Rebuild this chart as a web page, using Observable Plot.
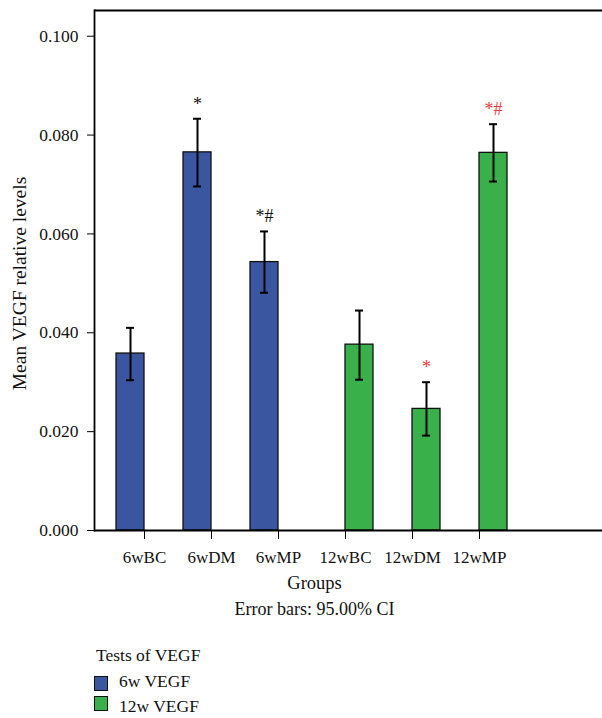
<!DOCTYPE html>
<html>
<head>
<meta charset="utf-8">
<script src="https://cdn.jsdelivr.net/npm/d3@7"></script>
<script src="https://cdn.jsdelivr.net/npm/@observablehq/plot@0.6"></script>
<style>
  html, body { margin: 0; padding: 0; background: #fff; overflow: hidden; }
  #wrap { position: relative; width: 602px; height: 718px; font-family: "Liberation Serif", "DejaVu Serif", serif; color: #111; }
  .lg { position: absolute; font-size: 17.5px; line-height: 20px; white-space: nowrap; }
  .sw { position: absolute; width: 12px; height: 13px; border: 1px solid #111; }
  #chart svg { max-width: none !important; width: 602px !important; height: 630px !important; }
</style>
</head>
<body>
<div id="wrap">
  <div id="chart"></div>
  <div class="lg" style="left:96px; top:645px;">Tests of VEGF</div>
  <div class="sw" style="left:94px; top:676px; background:#3a56a1;"></div>
  <div class="lg" style="left:119px; top:671px;">6w VEGF</div>
  <div class="sw" style="left:94px; top:696px; background:#3ab04a;"></div>
  <div class="lg" style="left:119px; top:696px;">12w VEGF</div>
</div>
<script>
const groups  = ["6wBC", "6wDM", "6wMP", "12wBC", "12wDM", "12wMP"];
const series  = ["6w VEGF", "6w VEGF", "6w VEGF", "12w VEGF", "12w VEGF", "12w VEGF"];
const means   = [0.0358, 0.0765, 0.0543, 0.0376, 0.0246, 0.0764];
const ciLow   = [0.0304, 0.0696, 0.0481, 0.0305, 0.0192, 0.0706];
const ciHigh  = [0.0410, 0.0833, 0.0605, 0.0445, 0.0300, 0.0822];
const signif  = ["", "*", "*#", "", "*", "*#"];
const yTicks  = [0, 0.02, 0.04, 0.06, 0.08, 0.10];
const yMax = 0.1052;

const data = groups.map((g, i) => ({group: g, series: series[i], mean: means[i], lo: ciLow[i], hi: ciHigh[i], sig: signif[i]}));

const FONT = "Liberation Serif";

function seriesMarks(name, side, fill, sigColor) {
  const d = data.filter(r => r.series === name);
  const off = side < 0 ? {insetRight: 28} : {insetLeft: 28};
  return [
    Plot.barY(d, {x: "group", y: "mean", fill, stroke: "#111", strokeWidth: 1.3, ...off}),
    Plot.ruleX(d, {x: "group", y1: "lo", y2: "hi", dx: 14 * side, stroke: "#000", strokeWidth: 2}),
    Plot.tickY(d, {x: "group", y: "hi", dx: 14 * side, insetLeft: 24, insetRight: 24, stroke: "#000", strokeWidth: 2}),
    Plot.tickY(d, {x: "group", y: "lo", dx: 14 * side, insetLeft: 24, insetRight: 24, stroke: "#000", strokeWidth: 2}),
    Plot.text(d.filter(r => r.sig), {x: "group", y: "hi", text: "sig", dx: 14 * side, dy: -15, fill: sigColor, fontSize: 18, fontFamily: FONT})
  ];
}

const chart = Plot.plot({
  width: 602,
  height: 630,
  marginLeft: 94,
  marginRight: 0,
  marginTop: 10,
  marginBottom: 100,
  style: {fontFamily: FONT, fontSize: "17px", color: "#111", background: "white", overflow: "visible"},
  x: {domain: groups, paddingInner: 0.165, paddingOuter: 0.87, align: 0.186, label: null},
  y: {domain: [0, yMax], label: null},
  marks: [
    ...seriesMarks("6w VEGF", -1, "#3a56a1", "#111"),
    ...seriesMarks("12w VEGF", 1, "#3ab04a", "#ee3a3f"),
    Plot.ruleY([yMax], {stroke: "#000", strokeWidth: 1.8}),
    Plot.ruleY([0], {stroke: "#000", strokeWidth: 1.8}),
    Plot.frame({anchor: "left", stroke: "#000", strokeWidth: 1.8}),
    Plot.axisY({ticks: yTicks, tickFormat: d3.format(".3f"), tickSize: 7, tickPadding: 9, fontSize: 17.5, label: null, stroke: "#000"}),
    Plot.axisX({tickSize: 9, tickPadding: 11, fontSize: 17, label: null, stroke: "#000"}),
    Plot.text(["Mean VEGF relative levels"], {frameAnchor: "left", textAnchor: "middle", rotate: -90, dx: -75, dy: 13, fontSize: 19.5, fontFamily: FONT, fill: "#111"}),
    Plot.text(["Groups"], {frameAnchor: "bottom", dx: -34, dy: 58.6, fontSize: 18.5, fontFamily: FONT, fill: "#111"}),
    Plot.text(["Error bars: 95.00% CI"], {frameAnchor: "bottom", dx: -34, dy: 84.6, fontSize: 18, fontFamily: FONT, fill: "#111"})
  ]
});
document.getElementById("chart").appendChild(chart);
</script>
</body>
</html>
